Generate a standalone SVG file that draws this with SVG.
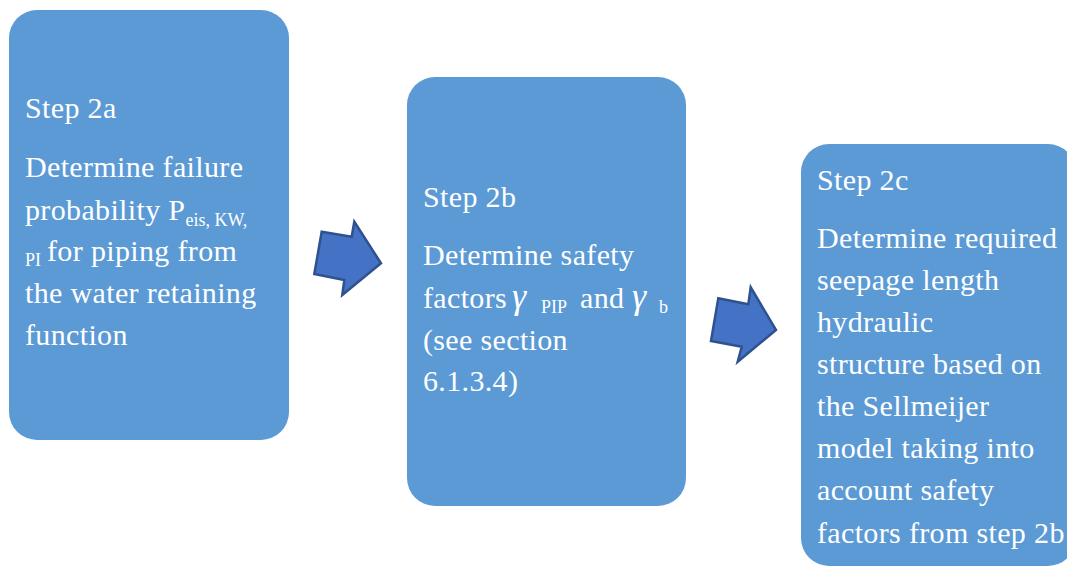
<svg xmlns="http://www.w3.org/2000/svg" width="1067" height="566" viewBox="0 0 1067 566">
  <style>
    .box { fill: #5B9AD5; }
    .txt { font-family: "Liberation Serif", "DejaVu Serif", serif; font-size: 30px; letter-spacing: 0.35px; fill: #FFFFFF; }
    .sub { font-size: 18px; letter-spacing: 0; }
    .gamma { font-size: 36px; font-style: italic; }
    .arrow { fill: #4472C4; stroke: #2F528F; stroke-width: 2.5; stroke-linejoin: miter; }
  </style>
  <rect width="1067" height="566" fill="#FFFFFF"/>

  <g id="step-2a">
    <rect class="box" x="9" y="10" width="280" height="430" rx="28"/>
    <text class="txt" x="25" y="118">Step 2a</text>
    <text class="txt" x="25" y="177">Determine failure</text>
    <text class="txt" x="25" y="220">probability P<tspan class="sub" dy="6">eis, KW,</tspan></text>
    <text class="txt" x="25" y="261"><tspan class="sub" dy="5">PI</tspan><tspan x="47" dy="-5">for piping from</tspan></text>
    <text class="txt" x="25" y="303">the water retaining</text>
    <text class="txt" x="25" y="345">function</text>
  </g>

  <g id="step-2b">
    <rect class="box" x="407" y="77" width="279" height="429" rx="28"/>
    <text class="txt" x="423" y="207">Step 2b</text>
    <text class="txt" x="423" y="265">Determine safety</text>
    <text class="txt" x="423" y="308">factors<tspan class="gamma" x="512">γ</tspan><tspan class="sub" x="541" dy="5">PIP</tspan><tspan x="580" dy="-5">and</tspan><tspan class="gamma" x="632">γ</tspan><tspan class="sub" x="659" dy="5">b</tspan></text>
    <text class="txt" x="423" y="350">(see section</text>
    <text class="txt" x="423" y="391">6.1.3.4)</text>
  </g>

  <g id="step-2c">
    <rect class="box" x="801" y="144" width="275" height="422" rx="28"/>
    <text class="txt" x="817" y="190">Step 2c</text>
    <text class="txt" x="817" y="248">Determine required</text>
    <text class="txt" x="817" y="290">seepage length</text>
    <text class="txt" x="817" y="332">hydraulic</text>
    <text class="txt" x="817" y="374">structure  based on</text>
    <text class="txt" x="817" y="416">the Sellmeijer</text>
    <text class="txt" x="817" y="458">model taking into</text>
    <text class="txt" x="817" y="500">account safety</text>
    <text class="txt" x="817" y="543">factors from step 2b</text>
  </g>

  <g id="connectors">
    <polygon class="arrow" points="321.7,231.7 351.7,236.7 354.3,221.7 381,263.3 342.3,295 344.3,280 314.3,274"/>
    <polygon class="arrow" points="718.3,298.3 748.3,304.3 750.7,287.3 776,330 737.7,361.7 741.7,346.7 711,341"/>
  </g>
</svg>
